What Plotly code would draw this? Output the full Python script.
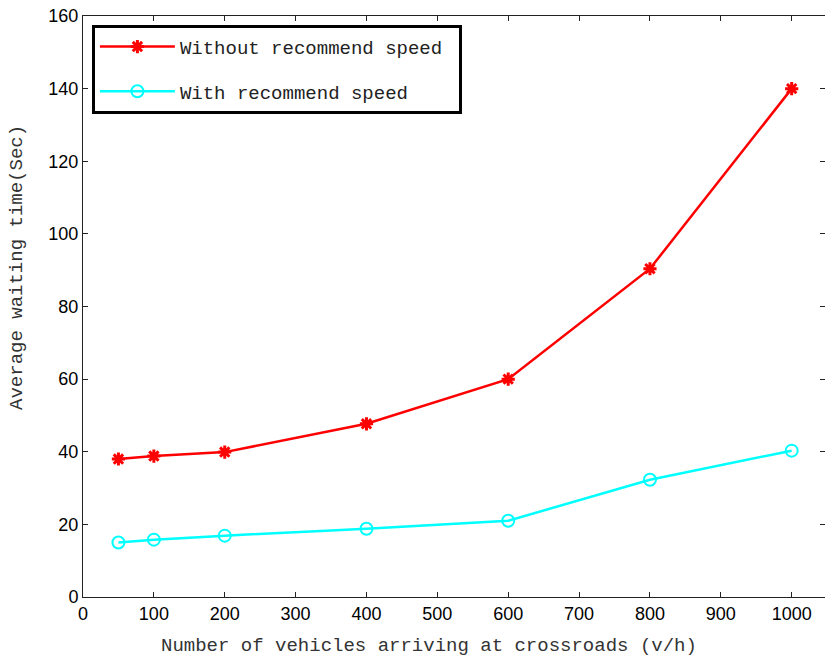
import plotly.graph_objects as go

x_vals = [50, 100, 200, 400, 600, 800, 1000]
without_speed = [38.0, 38.8, 39.9, 47.7, 60.0, 90.4, 140.0]
with_speed = [15.0, 15.8, 16.9, 18.8, 21.0, 32.3, 40.3]
x_ticks = [0, 100, 200, 300, 400, 500, 600, 700, 800, 900, 1000]
y_ticks = [0, 20, 40, 60, 80, 100, 120, 140, 160]

mono = "Liberation Mono"
sans = "Liberation Sans"
XR = [0, 1047]
YR = [0, 160]

fig = go.Figure()
fig.add_trace(go.Scatter(
    x=x_vals, y=without_speed, mode="lines+markers", name="Without recommend speed\u00a0",
    legendgroup="a",
    line=dict(color="#ff0000", width=2.5),
    marker=dict(symbol="asterisk-open", size=11, color="#ff0000",
                line=dict(color="#ff0000", width=3)),
))
fig.add_trace(go.Scatter(
    x=x_vals, y=with_speed, mode="lines+markers", name="With recommend speed",
    legendgroup="b",
    line=dict(color="#00ffff", width=2.5),
    marker=dict(symbol="circle-open", size=12, color="#00ffff",
                line=dict(color="#00ffff", width=2)),
))
# invisible trace to activate secondary axes (mirrored inner ticks)
fig.add_trace(go.Scatter(x=[None], y=[None], xaxis="x2", yaxis="y2",
                         showlegend=False, hoverinfo="skip"))

fig.update_layout(
    width=825, height=661,
    margin=dict(l=83, r=0, t=16, b=64),
    paper_bgcolor="white", plot_bgcolor="white",
    showlegend=True,
    legend=dict(
        x=0.012, y=0.985, xanchor="left", yanchor="top",
        bgcolor="white", bordercolor="black", borderwidth=3,
        font=dict(family=mono, size=19, color="#222"),
        tracegroupgap=17, traceorder="grouped", itemwidth=75,
    ),
    xaxis=dict(
        range=XR, tickvals=x_ticks, ticktext=[str(v) for v in x_ticks],
        ticks="inside", ticklen=5, tickcolor="#222", tickwidth=1,
        showline=True, linecolor="#222", linewidth=1,
        showgrid=False, zeroline=False,
        tickfont=dict(family=sans, size=18, color="black"),
    ),
    yaxis=dict(
        range=YR, tickvals=y_ticks, ticktext=[str(v) for v in y_ticks],
        ticks="inside", ticklen=5, tickcolor="#222", tickwidth=1,
        showline=True, linecolor="#222", linewidth=1,
        showgrid=False, zeroline=False,
        tickfont=dict(family=sans, size=18, color="black"),
    ),
    xaxis2=dict(
        range=XR, tickvals=x_ticks, overlaying="x", side="top", anchor="y",
        ticks="inside", ticklen=5, tickcolor="#222", showticklabels=False,
        showline=True, linecolor="#222", linewidth=1,
        showgrid=False, zeroline=False,
    ),
    yaxis2=dict(
        range=YR, tickvals=y_ticks, overlaying="y", side="right", anchor="x",
        ticks="inside", ticklen=5, tickcolor="#222", showticklabels=False,
        showline=False, showgrid=False, zeroline=False,
    ),
    annotations=[
        dict(text="Number of vehicles arriving at crossroads (v/h)",
             xref="paper", yref="paper", x=0.4663, y=-0.0843,
             xanchor="center", yanchor="middle", showarrow=False,
             font=dict(family=mono, size=19, color="#333")),
        dict(text="Average waiting time(Sec)",
             xref="paper", yref="paper", x=-0.089, y=0.568,
             xanchor="center", yanchor="middle", showarrow=False, textangle=-90,
             font=dict(family=mono, size=19, color="#333")),
    ],
)

fig.write_html("out.html")
